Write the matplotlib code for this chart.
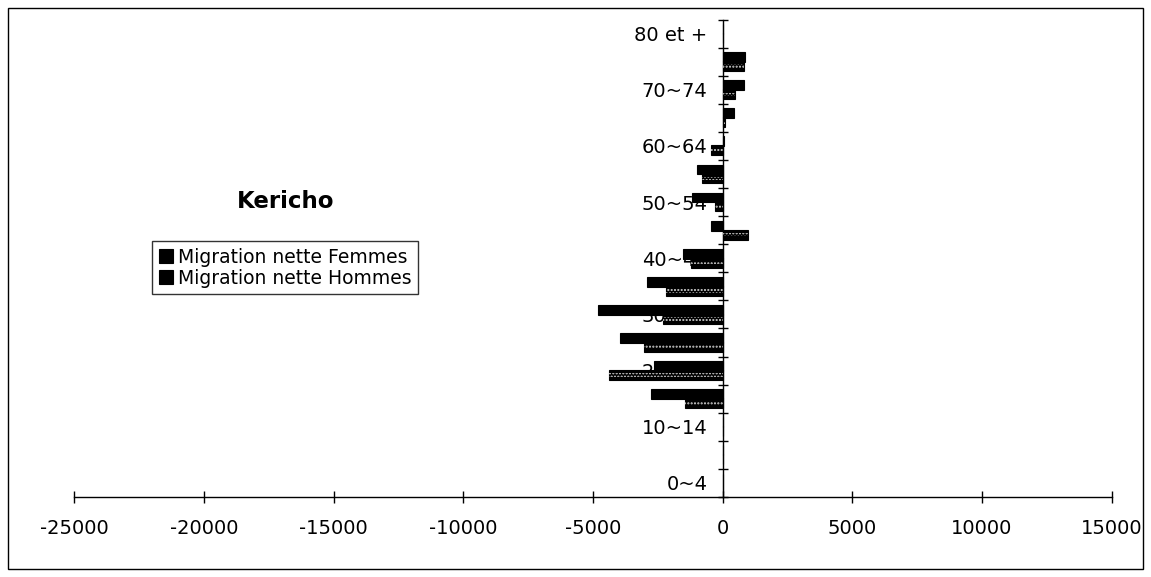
import matplotlib
matplotlib.use("Agg")
import matplotlib.pyplot as plt
import matplotlib.patches as mpatches
from matplotlib.ticker import FixedLocator
import numpy as np

W, H = 1151, 577

ages = ["0~4", "5~9", "10~14", "15~19", "20~24", "25~29", "30~34", "35~39",
        "40~44", "45~49", "50~54", "55~59", "60~64", "65~69", "70~74",
        "75~79", "80 et +"]
# net migration
hommes = [0, 0, 0, -2770, -2635, -3950, -4825, -2920, -1545, -450, -1200,
          -1000, 60, 420, 820, 850, 0]
femmes = [0, 0, 0, -1455, -4375, -3050, -2315, -2190, -1220, 980, -300,
          -800, -440, 80, 480, 820, 0]
xticks = [-25000, -20000, -15000, -10000, -5000, 0, 5000, 10000, 15000]

fig = plt.figure(figsize=(W / 100, H / 100), dpi=100)
ax = fig.add_axes([74.3 / W, 1 - 497 / H, (1111.7 - 74.3) / W, (497 - 19.5) / H])

y = np.arange(len(ages))
bh = 0.35
bars_h = ax.barh(y + 0.16, hommes, height=bh, color="black",
                 edgecolor="black", linewidth=0.8, zorder=3)
bars_f = ax.barh(y - 0.16, femmes, height=bh, color="black",
                 edgecolor="black", linewidth=0.8, zorder=3)
# speckled fill of the women's series
ax.barh(y - 0.16, femmes, height=0.12, color="none", edgecolor="#d8d8d8",
        linewidth=0, hatch=".....", zorder=4)

ax.set_xlim(-25000, 15000)
ax.set_ylim(-0.5, len(ages) - 0.5)

for s in ["top", "right"]:
    ax.spines[s].set_visible(False)
ax.spines["left"].set_position(("data", 0))
ax.spines["left"].set_linewidth(1)
ax.spines["bottom"].set_linewidth(1)

ax.set_xticks(xticks)
ax.set_xticklabels([str(v) for v in xticks], fontsize=14)
ax.tick_params(axis="x", direction="inout", length=9, width=1, pad=11)

# tick marks at category boundaries, labels on every other category
ax.yaxis.set_major_locator(FixedLocator(np.arange(len(ages) + 1) - 0.5))
ax.yaxis.set_minor_locator(FixedLocator(y))
ax.set_yticklabels([""] * (len(ages) + 1))
ax.set_yticklabels([a if i % 2 == 0 else "" for i, a in enumerate(ages)],
                   minor=True, fontsize=14)
ax.tick_params(axis="y", which="major", direction="inout", length=7.5, width=1)
ax.tick_params(axis="y", which="minor", length=0, pad=11)
ax.yaxis.set_zorder(1)

fig.text(286 / W, 1 - 202 / H, "Kericho", ha="center", va="center",
         fontsize=16.5, fontweight="bold")

leg = fig.legend([bars_f, bars_h],
                 ["Migration nette Femmes", "Migration nette Hommes"],
                 loc="upper left", bbox_to_anchor=(152 / W, 1 - 241 / H),
                 fontsize=13.5, frameon=True, fancybox=False, shadow=False,
                 handlelength=0.75, handleheight=0.75, handletextpad=0.3,
                 borderpad=0.35, labelspacing=0.12, borderaxespad=0)
leg.get_frame().set_edgecolor("black")
leg.get_frame().set_linewidth(1)

fig.add_artist(mpatches.Rectangle((8 / W, 1 - 569 / H), (1143 - 8) / W,
                                  (569 - 8) / H, transform=fig.transFigure,
                                  fill=False, edgecolor="black", linewidth=1))

fig.savefig("out.png", dpi=100)
